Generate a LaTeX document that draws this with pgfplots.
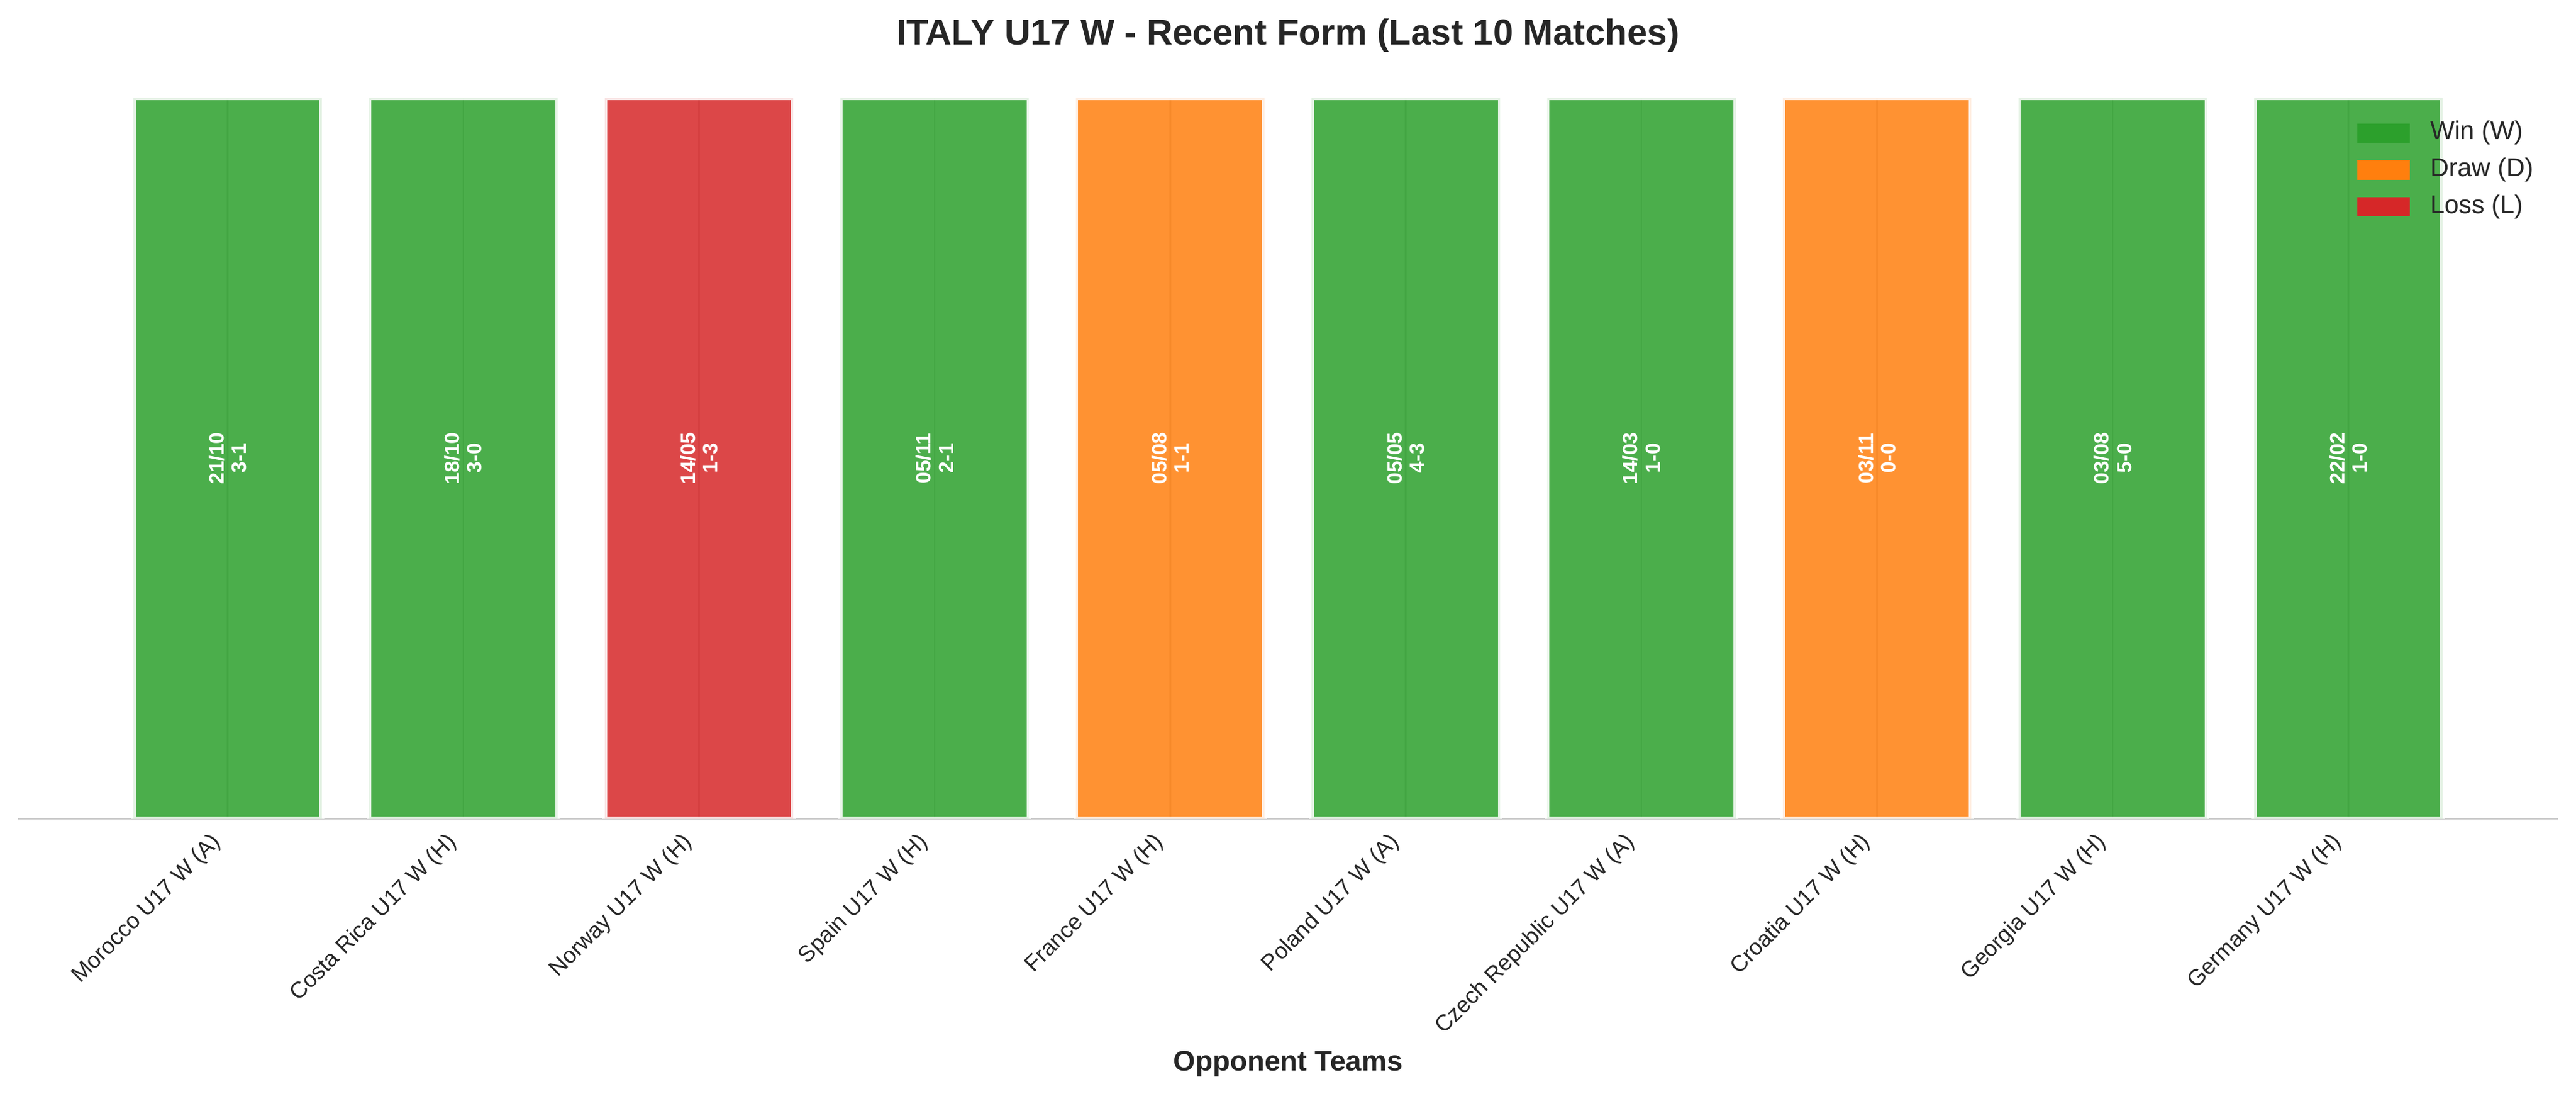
\documentclass[border=0pt]{standalone}
\usepackage{pgfplots}
\pgfplotsset{compat=1.18}
\usepackage{fontspec}
\setmainfont{Liberation Sans}
\definecolor{cwin}{HTML}{2CA02C}
\definecolor{cdraw}{HTML}{FF7F0E}
\definecolor{closs}{HTML}{D62728}
\definecolor{txt}{HTML}{262626}
\definecolor{gridc}{HTML}{CCCCCC}
\begin{document}
\begin{tikzpicture}
\useasboundingbox (-6.96pt,-106.8pt) rectangle (993.84pt,318pt);
\begin{axis}[
  at={(0pt,0pt)}, anchor=south west,
  scale only axis, width=986.88pt, height=280.08pt,
  xmin=-0.89, xmax=9.89, ymin=0, ymax=1,
  axis y line=none,
  axis x line*=bottom,
  x axis line style={gridc, line width=0.5pt, -},
  xtick={0,...,9},
  xticklabels={Morocco U17 W (A), Costa Rica U17 W (H), Norway U17 W (H), Spain U17 W (H), France U17 W (H), Poland U17 W (A), Czech Republic U17 W (A), Croatia U17 W (H), Georgia U17 W (H), Germany U17 W (H)},
  major tick length=0pt,
  xmajorgrids, major grid style={gridc, line width=0.6pt},
  xticklabel style={font=\fontsize{8.8}{10}\selectfont, text=txt, inner sep=0pt, xshift=-6.9pt, yshift=-4.6pt, rotate=45, anchor=north east},
  every axis x label/.style={at={(axis description cs:0.5,0)}, anchor=base, yshift=-97.7pt, font=\bfseries\fontsize{11}{13}\selectfont, text=txt, inner sep=0pt},
  xlabel={Opponent Teams},
  every axis title/.style={at={(axis description cs:0.5,1)}, anchor=base, yshift=20.4pt, font=\bfseries\fontsize{14}{16}\selectfont, text=txt, inner sep=0pt},
  title={ITALY U17 W - Recent Form (Last 10 Matches)},
  legend style={draw=none, fill=none, at={(1,1)}, anchor=north east, xshift=-9.4pt, yshift=-8.6pt, inner sep=0pt, row sep=4.3pt, column sep=8pt, font=\fontsize{10}{12}\selectfont, text=txt, nodes={inner sep=0pt, text height=7.5pt, text depth=2.5pt}},
  legend cell align=left,
]
\addlegendimage{legend image code/.code={\fill[cwin] (0pt,-3.6pt) rectangle (20pt,3.6pt);}}
\addlegendentry{Win (W)}
\addlegendimage{legend image code/.code={\fill[cdraw] (0pt,-3.6pt) rectangle (20pt,3.6pt);}}
\addlegendentry{Draw (D)}
\addlegendimage{legend image code/.code={\fill[closs] (0pt,-3.6pt) rectangle (20pt,3.6pt);}}
\addlegendentry{Loss (L)}

\addplot[ybar, bar width=0.8, bar shift=0pt, fill=cwin, fill opacity=0.85, draw=white, draw opacity=0.85, line width=1.8pt, forget plot] coordinates {(0,1) (1,1) (3,1) (5,1) (6,1) (8,1) (9,1)};
\addplot[ybar, bar width=0.8, bar shift=0pt, fill=cdraw, fill opacity=0.85, draw=white, draw opacity=0.85, line width=1.8pt, forget plot] coordinates {(4,1) (7,1)};
\addplot[ybar, bar width=0.8, bar shift=0pt, fill=closs, fill opacity=0.85, draw=white, draw opacity=0.85, line width=1.8pt, forget plot] coordinates {(2,1)};

\tikzset{blab/.style={rotate=90, align=center, text=white, font=\bfseries\fontsize{8}{8.7}\selectfont, inner sep=0pt}}
\node[blab] at (axis cs:0,0.5) {21/10\\3-1};
\node[blab] at (axis cs:1,0.5) {18/10\\3-0};
\node[blab] at (axis cs:2,0.5) {14/05\\1-3};
\node[blab] at (axis cs:3,0.5) {05/11\\2-1};
\node[blab] at (axis cs:4,0.5) {05/08\\1-1};
\node[blab] at (axis cs:5,0.5) {05/05\\4-3};
\node[blab] at (axis cs:6,0.5) {14/03\\1-0};
\node[blab] at (axis cs:7,0.5) {03/11\\0-0};
\node[blab] at (axis cs:8,0.5) {03/08\\5-0};
\node[blab] at (axis cs:9,0.5) {22/02\\1-0};
\end{axis}
\end{tikzpicture}
\end{document}
